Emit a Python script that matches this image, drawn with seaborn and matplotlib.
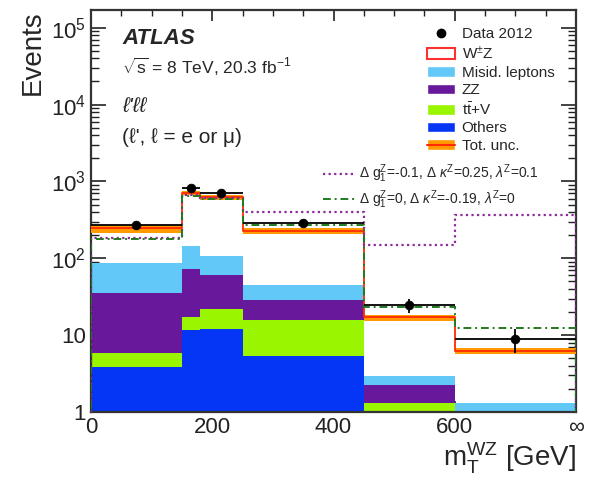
import numpy as np
import pandas as pd
import seaborn as sns
import matplotlib.pyplot as plt
from matplotlib.patches import Patch
from matplotlib.lines import Line2D
from matplotlib.ticker import FixedLocator, FixedFormatter, MultipleLocator, LogLocator, NullFormatter

sns.set_theme(style="ticks")
plt.rcParams['font.family'] = ['Liberation Sans', 'DejaVu Sans']
plt.rcParams['mathtext.fontset'] = 'custom'
plt.rcParams['mathtext.rm'] = 'Liberation Sans'
plt.rcParams['mathtext.it'] = 'Liberation Sans:italic'
plt.rcParams['mathtext.bf'] = 'Liberation Sans:bold'

# bins in m_T^WZ [GeV], last bin is overflow (drawn up to 800)
edges = [0, 150, 180, 250, 450, 600, 800]
centers = [75, 165, 215, 350, 525, 700]

# backgrounds / signal per bin
others = [3.8, 11.6, 12.0, 5.3, 0.5, 0.2]
ttv = [2.0, 5.4, 10.0, 10.3, 0.8, 0.2]
zz = [29.2, 55.0, 38.0, 12.9, 0.94, 0.4]
misid = [51.0, 71.0, 46.0, 16.5, 0.66, 0.5]
wz = [159.0, 567.0, 514.0, 185.0, 14.1, 4.9]
rel_unc = [0.12, 0.07, 0.07, 0.09, 0.09, 0.09]

data = [268, 830, 700, 290, 24.5, 8.9]
data_err = [16, 29, 26, 17, 5, 3]

atgc1 = [183, 665, 605, 395, 147, 370]   # dg1=-0.1, dk=0.25, l=0.1
atgc2 = [180, 655, 595, 268, 23, 12.3]   # dg1=0, dk=-0.19, l=0

colors = {'Misid': '#62c8f8', 'ZZ': '#68189a', 'ttV': '#99f500', 'Others': '#0636f5'}

rows = []
for name, vals in [('Misid', misid), ('ZZ', zz), ('ttV', ttv), ('Others', others)]:
    for c, v in zip(centers, vals):
        rows.append({'m': c, 'w': v, 'process': name})
stack = pd.DataFrame(rows)

total = np.array(others) + np.array(ttv) + np.array(zz) + np.array(misid) + np.array(wz)
unc = np.array(rel_unc) * total

fig = plt.figure(figsize=(5.89, 4.78), dpi=100)
ax = fig.add_axes([0.1545, 0.138, 0.8235, 0.841])
ax.set_yscale('log')

sns.histplot(data=stack, x='m', weights='w', hue='process',
             hue_order=['Misid', 'ZZ', 'ttV', 'Others'], palette=colors,
             bins=edges, multiple='stack', element='step', fill=True,
             alpha=1, linewidth=0, legend=False, ax=ax)

ax.stairs(total + unc, edges, baseline=total - unc, fill=True, color='#ff9a00', zorder=3)
sns.histplot(x=centers, weights=total, bins=edges, element='step', fill=False,
             color='#ff2a00', linewidth=1.3, ax=ax, zorder=4)

ax.stairs(atgc1, edges, color='#8e2a9c', linestyle=(0, (1, 1.5)), linewidth=1.6, zorder=5)
ax.stairs(atgc2, edges, color='#1f7a1f', linestyle=(0, (4, 2, 1, 2)), linewidth=1.4, zorder=5)

xerr = [(edges[i + 1] - edges[i]) / 2 for i in range(len(centers))]
ax.errorbar(centers, data, xerr=xerr, yerr=data_err, fmt='none', ecolor='black',
            elinewidth=1.3, zorder=6)
sns.scatterplot(x=centers, y=data, color='black', s=40, edgecolor='black', zorder=7, ax=ax)

ax.set_xlim(0, 800)
ax.set_ylim(1, 1.7e5)

ax.xaxis.set_major_locator(FixedLocator([0, 200, 400, 600, 800]))
ax.xaxis.set_major_formatter(FixedFormatter(['0', '200', '400', '600', '\u221e']))
ax.xaxis.set_minor_locator(MultipleLocator(50))
ax.yaxis.set_major_locator(FixedLocator([1, 10, 100, 1e3, 1e4, 1e5]))
ax.yaxis.set_major_formatter(FixedFormatter(['1', '10', '$10^2$', '$10^3$', '$10^4$', '$10^5$']))
ax.yaxis.set_minor_locator(LogLocator(base=10, subs=np.arange(2, 10), numticks=20))
ax.yaxis.set_minor_formatter(NullFormatter())

ax.tick_params(which='both', direction='in', top=True, right=True, colors='#222222', labelsize=16)
ax.tick_params(axis='y', which='major', length=11, width=1.2)
ax.tick_params(axis='y', which='minor', length=5.5, width=1.0)
ax.tick_params(axis='x', which='major', length=8, width=1.2)
ax.tick_params(axis='x', which='minor', length=4.5, width=1.0)
for s in ax.spines.values():
    s.set_linewidth(1.6)
    s.set_color('#333333')

ax.set_ylabel('Events', loc='top', fontsize=20, labelpad=4)
ax.set_xlabel(r'm$_{\mathrm{T}}^{\mathrm{WZ}}$ [GeV]', loc='right', fontsize=20, labelpad=2)

ax.text(0.064, 0.928, 'ATLAS', transform=ax.transAxes, fontsize=16,
        fontweight='bold', style='italic', va='center')
ax.text(0.064, 0.858, r'$\sqrt{\mathrm{s}}$ = 8 TeV, 20.3 fb$^{\mathrm{-1}}$', transform=ax.transAxes,
        fontsize=12.5, va='center')
ax.text(0.064, 0.759, "\u2113'\u2113\u2113", transform=ax.transAxes, fontsize=15,
        style='italic', va='center')
ax.text(0.064, 0.684, "(\u2113', \u2113 = e or \u03bc)", transform=ax.transAxes, fontsize=15,
        va='center')

handles1 = [
    Line2D([], [], color='black', marker='o', markersize=6, linestyle='none'),
    Patch(facecolor='white', edgecolor='#ff3030', linewidth=1.5),
    Patch(facecolor=colors['Misid']),
    Patch(facecolor=colors['ZZ']),
    Patch(facecolor=colors['ttV']),
    Patch(facecolor=colors['Others']),
    (Patch(facecolor='#ff9a00'), Line2D([], [], color='#ff2a00', linewidth=1.5)),
]
labels1 = ['Data 2012', 'W$^{\\pm}$Z', 'Misid. leptons', 'ZZ', 't$\\bar{\\mathrm{t}}$+V', 'Others', 'Tot. unc.']
leg1 = ax.legend(handles1, labels1, loc='upper left', bbox_to_anchor=(0.693, 0.958),
                 frameon=False, fontsize=11, borderpad=0, borderaxespad=0,
                 handlelength=1.85, handleheight=0.7, handletextpad=0.4, labelspacing=0.24)
ax.add_artist(leg1)

handles2 = [Line2D([], [], color='#8e2a9c', linestyle=(0, (1, 1.5)), linewidth=1.6),
            Line2D([], [], color='#1f7a1f', linestyle=(0, (4, 2, 1, 2)), linewidth=1.4)]
labels2 = [r'$\Delta$ g$_1^{\mathrm{Z}}$=-0.1, $\Delta$ $\kappa^{\mathrm{Z}}$=0.25, $\lambda^{\mathrm{Z}}$=0.1',
           r'$\Delta$ g$_1^{\mathrm{Z}}$=0, $\Delta$ $\kappa^{\mathrm{Z}}$=-0.19, $\lambda^{\mathrm{Z}}$=0']
ax.legend(handles2, labels2, loc='upper left', bbox_to_anchor=(0.478, 0.62),
          frameon=False, fontsize=10, borderpad=0, borderaxespad=0,
          handlelength=2.3, handletextpad=0.3, labelspacing=0.22)

fig.savefig('out.png', dpi=100)
